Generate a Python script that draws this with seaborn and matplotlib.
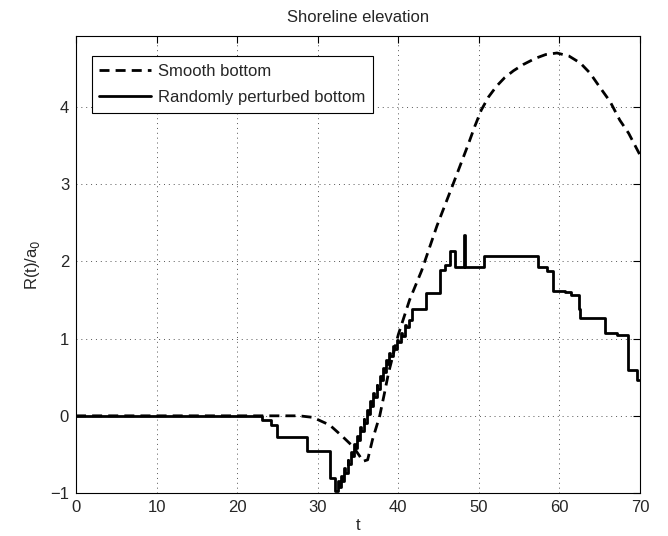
"""
Shoreline elevation: smooth vs randomly perturbed bottom
"""
import numpy as np
import pandas as pd
import matplotlib
matplotlib.use('Agg')
import matplotlib.pyplot as plt
import seaborn as sns

# Smooth bottom (dashed)
t_smooth = [0, 27.7, 29.4, 31.5, 33.1, 34.4, 35.2, 35.6, 36.2, 36.8, 37.7, 38.3,
            38.8, 40.0, 41.4, 42.9, 44.8, 46.8, 48.7, 49.5, 50.3, 51.2, 52.2,
            53.2, 54.3, 55.5, 57.0, 58.3, 59.7, 61.2, 62.6, 63.8, 65.0, 66.3,
            67.5, 68.6, 70.0]
r_smooth = [0, 0, -0.02, -0.12, -0.27, -0.40, -0.52, -0.59, -0.57, -0.31, 0.0, 0.30,
            0.56, 1.05, 1.5, 1.88, 2.46, 3.0, 3.52, 3.75, 3.96, 4.13, 4.27,
            4.38, 4.47, 4.55, 4.63, 4.68, 4.70, 4.66, 4.57, 4.44, 4.26, 4.07,
            3.83, 3.66, 3.38]

# Randomly perturbed bottom (solid, stepwise)
t_rand = [0, 23.1, 24.2, 25.0, 28.7, 31.5, 32.2,
          32.5, 32.6, 32.9, 33.0, 33.3, 33.4, 33.7, 33.8, 34.1, 34.2, 34.5, 34.6,
          34.9, 35.0, 35.3, 35.4, 35.7, 35.8, 36.1, 36.2, 36.5, 36.6, 36.9, 37.0,
          37.3, 37.4, 37.7, 37.8, 38.1, 38.2, 38.5, 38.6, 38.9, 39.0, 39.3, 39.5,
          39.8, 40.0, 40.3, 40.5, 40.8, 41.0, 41.3,
          41.7, 43.5, 45.2, 45.8, 46.4, 47.1, 48.2, 48.3, 50.7, 57.4, 58.5, 59.2,
          60.7, 61.4, 62.4, 62.6, 65.7, 67.1, 68.5, 69.6, 69.9]
r_rand = [0, -0.05, -0.12, -0.28, -0.46, -0.81, -0.98,
          -0.85, -0.92, -0.78, -0.84, -0.68, -0.74, -0.57, -0.62, -0.47, -0.52, -0.36, -0.42,
          -0.26, -0.31, -0.15, -0.20, -0.04, -0.09, 0.07, 0.02, 0.19, 0.13, 0.30, 0.25,
          0.40, 0.35, 0.52, 0.46, 0.62, 0.57, 0.72, 0.67, 0.82, 0.77, 0.90, 0.86,
          0.98, 0.95, 1.07, 1.04, 1.18, 1.15, 1.24,
          1.39, 1.59, 1.89, 1.96, 2.14, 1.93, 2.34, 1.93, 2.07, 1.93, 1.87, 1.62,
          1.60, 1.56, 1.38, 1.27, 1.07, 1.05, 0.60, 0.46, 0.46]

x_ticks = [0, 10, 20, 30, 40, 50, 60, 70]
y_ticks = [-1, 0, 1, 2, 3, 4]

df_smooth = pd.DataFrame({'t': t_smooth, 'R': r_smooth})
df_rand = pd.DataFrame({'t': t_rand, 'R': r_rand})

sns.set_style('white')
plt.rcParams['font.family'] = ['Liberation Sans', 'DejaVu Sans']
plt.rcParams['font.size'] = 12
plt.rcParams['xtick.direction'] = 'in'
plt.rcParams['ytick.direction'] = 'in'

fig = plt.figure(figsize=(6.68, 5.36), dpi=100)
ax = fig.add_axes([0.1138, 0.0802, 0.8442, 0.8526])

sns.lineplot(data=df_smooth, x='t', y='R', ax=ax, color='black', lw=2.0,
             estimator=None, sort=False, label='Smooth bottom',
             dashes=False, linestyle=(0, (3.6, 2.2)))
sns.lineplot(data=df_rand, x='t', y='R', ax=ax, color='black', lw=2.0,
             estimator=None, sort=False, label='Randomly perturbed bottom',
             drawstyle='steps-post')

ax.set_xlim(0, 70)
ax.set_ylim(-1, 4.92)
ax.set_xticks(x_ticks)
ax.set_yticks(y_ticks)
ax.grid(True, linestyle=(0, (1, 4)), color='#555555', lw=0.7)
ax.tick_params(top=True, right=True, length=5, width=0.8, color='black',
               labelsize=12, pad=5)
for s in ax.spines.values():
    s.set_color('black')
    s.set_linewidth(0.8)

ax.set_title('Shoreline elevation', fontsize=12, pad=10)
ax.set_xlabel('t', fontsize=12, labelpad=2)
ax.set_ylabel('R(t)/a$_0$', fontsize=12, labelpad=6)

leg = ax.legend(loc='upper left', bbox_to_anchor=(0.028, 0.956), borderaxespad=0,
                fontsize=12, handlelength=3.1, handletextpad=0.4, borderpad=0.45,
                labelspacing=0.7, fancybox=False, framealpha=1,
                edgecolor='black')
leg.get_frame().set_linewidth(0.8)

plt.savefig('out.png', dpi=100)
